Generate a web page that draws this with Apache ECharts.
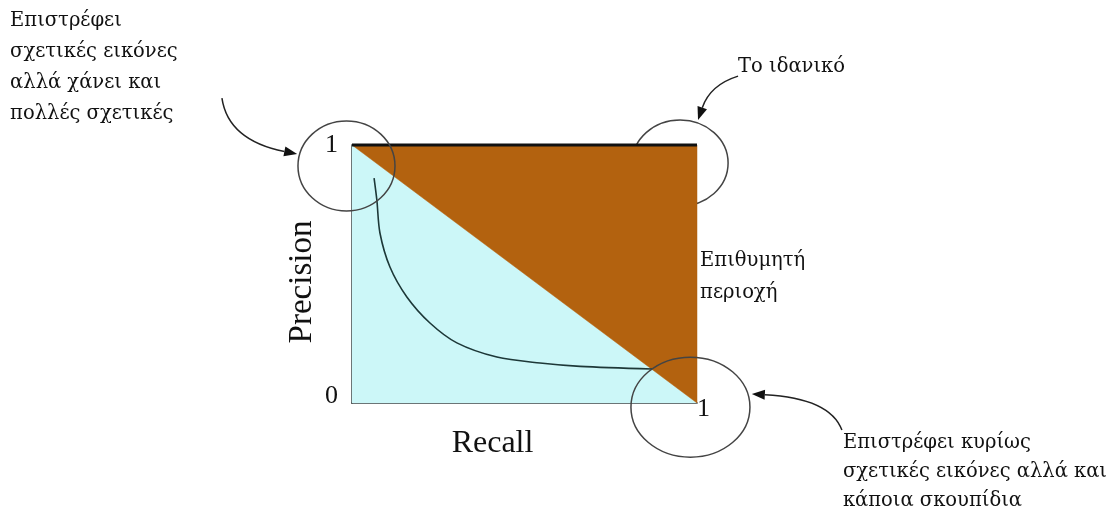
<!DOCTYPE html>
<html>
<head>
<meta charset="utf-8">
<script src="https://cdn.jsdelivr.net/npm/echarts@6/dist/echarts.min.js"></script>
<style>
  html, body { margin: 0; padding: 0; background: #fff; }
  #chart { width: 1117px; height: 514px; }
</style>
</head>
<body>
<div id="chart"></div>
<script>
// precision/recall curve
const recall =    [0.064, 0.072, 0.081, 0.110, 0.159, 0.226, 0.304, 0.420, 0.545, 0.661, 0.870];
const precision = [0.872, 0.787, 0.659, 0.527, 0.411, 0.310, 0.233, 0.178, 0.155, 0.142, 0.132];

// the two halves of the unit square
const lowerTriangle = [[0, 0], [0, 1], [1, 0]];
const upperTriangle = [[0, 1], [1, 1], [1, 0]];

// axis tick labels
const yTicks = [0, 1];
const xTicks = [1];

// notes (data coords of top-left corner of the text block)
const noteTexts = [
  'Επιστρέφει\nσχετικές εικόνες\nαλλά χάνει και\nπολλές σχετικές',
  'Το ιδανικό',
  'Επιθυμητή\nπεριοχή',
  'Επιστρέφει κυρίως\nσχετικές εικόνες αλλά και\nκάποια σκουπίδια'
];
const notePos = [[-0.991, 1.540], [1.119, 1.362], [1.009, 0.612], [1.423, -0.097]];
const noteLineHeight = [31, 31, 32, 29];

// circled corners: centres in data coords, radii in px
const circleCenters = [[-0.016, 0.919], [0.951, 0.930], [0.981, -0.016]];
const circleRadii = [[48.5, 45], [48, 43], [59.5, 50]];

// arrows: start, control, end (data coords)
const arrows = [
  [-0.377, 1.182, -0.359, 1.019, -0.159, 0.965],
  [1.119, 1.267, 1.038, 1.233, 1.003, 1.097],
  [1.420, -0.105, 1.386, 0.019, 1.159, 0.035]
];

const serif = '"Liberation Serif", "DejaVu Serif", serif';
// Liberation Serif has no Greek here, so the notes use DejaVu Serif
const greekSerif = '"DejaVu Serif", "Liberation Serif", serif';
const BROWN = '#B3620F';
const CYAN = '#CCF7F8';

function triangleSeries(points, color, z, topEdge) {
  return {
    type: 'custom',
    coordinateSystem: 'cartesian2d',
    silent: true,
    z: z,
    data: [points[0]],
    renderItem: function (params, api) {
      var children = [{
        type: 'polygon',
        shape: { points: points.map(function (p) { return api.coord(p); }) },
        style: { fill: color, stroke: color, lineWidth: 0.5 }
      }];
      if (topEdge) {
        var a = api.coord([0, 1]), b = api.coord([1, 1]);
        children.push({
          type: 'line',
          shape: { x1: a[0], y1: a[1], x2: b[0], y2: b[1] },
          style: { stroke: '#111', lineWidth: 3 }
        });
      }
      return { type: 'group', children: children };
    }
  };
}

function circleSeries(indices, z) {
  return {
    type: 'custom',
    coordinateSystem: 'cartesian2d',
    silent: true,
    clip: false,
    z: z,
    data: indices.map(function (i) { return circleCenters[i]; }),
    renderItem: function (params, api) {
      var i = indices[params.dataIndex];
      var c = api.coord(circleCenters[i]);
      return {
        type: 'ellipse',
        shape: { cx: c[0], cy: c[1], rx: circleRadii[i][0], ry: circleRadii[i][1] },
        style: { fill: 'none', stroke: '#444', lineWidth: 1.5 }
      };
    }
  };
}

var chart = echarts.init(document.getElementById('chart'), null, { renderer: 'canvas' });

chart.setOption({
  animation: false,
  backgroundColor: '#fff',
  grid: { left: 352, top: 145, width: 345, height: 258, containLabel: false },
  xAxis: {
    type: 'value', min: 0, max: 1, interval: 1,
    name: 'Recall', nameLocation: 'middle', nameGap: 9,
    nameTextStyle: { fontFamily: serif, fontSize: 32, color: '#111', lineHeight: 34, padding: [0, 64, 0, 0] },
    axisLine: { show: true, lineStyle: { color: '#111', width: 1.5 } },
    axisTick: { show: false },
    splitLine: { show: false },
    axisLabel: {
      fontFamily: serif, fontSize: 26, color: '#111', margin: 6,
      align: 'left', verticalAlign: 'middle',
      formatter: function (v) { return xTicks.indexOf(v) >= 0 ? String(v) : ''; }
    }
  },
  yAxis: {
    type: 'value', min: 0, max: 1, interval: 1,
    name: 'Precision', nameLocation: 'middle', nameGap: 33, nameRotate: 90,
    nameTextStyle: { fontFamily: serif, fontSize: 33, color: '#111', padding: [0, 16, 0, 0] },
    axisLine: { show: true, lineStyle: { color: '#111', width: 1.5 } },
    axisTick: { show: false },
    splitLine: { show: false },
    axisLabel: {
      fontFamily: serif, fontSize: 26, color: '#111', margin: 14,
      formatter: function (v) {
        if (yTicks.indexOf(v) < 0) return '';
        return v === 0 ? '{z|' + v + '}' : String(v);
      },
      rich: { z: { fontFamily: serif, fontSize: 26, color: '#111', padding: [0, 0, 13, 0] } }
    }
  },
  series: [
    circleSeries([1], 1),
    triangleSeries(lowerTriangle, CYAN, 2, false),
    triangleSeries(upperTriangle, BROWN, 2, true),
    {
      type: 'line',
      z: 4,
      data: recall.map(function (r, i) { return [r, precision[i]]; }),
      smooth: 0.3,
      showSymbol: false,
      silent: true,
      lineStyle: { color: '#1d3838', width: 1.6 }
    },
    circleSeries([0, 2], 5),
    {
      type: 'custom',
      coordinateSystem: 'cartesian2d',
      silent: true,
      clip: false,
      z: 6,
      data: arrows.map(function (a) { return [a[0], a[1]]; }),
      renderItem: function (params, api) {
        var a = arrows[params.dataIndex];
        var p0 = api.coord([a[0], a[1]]);
        var c = api.coord([a[2], a[3]]);
        var p1 = api.coord([a[4], a[5]]);
        var ang = Math.atan2(p1[1] - c[1], p1[0] - c[0]);
        var len = 13, hw = 5;
        var bx = p1[0] - len * Math.cos(ang), by = p1[1] - len * Math.sin(ang);
        var nx = -Math.sin(ang), ny = Math.cos(ang);
        return {
          type: 'group',
          children: [{
            type: 'bezierCurve',
            shape: { x1: p0[0], y1: p0[1], cpx1: c[0], cpy1: c[1], x2: bx, y2: by },
            style: { fill: 'none', stroke: '#222', lineWidth: 1.5 }
          }, {
            type: 'polygon',
            shape: { points: [p1, [bx + hw * nx, by + hw * ny], [bx - hw * nx, by - hw * ny]] },
            style: { fill: '#111' }
          }]
        };
      }
    },
    {
      type: 'custom',
      coordinateSystem: 'cartesian2d',
      silent: true,
      clip: false,
      z: 6,
      data: notePos,
      renderItem: function (params, api) {
        var i = params.dataIndex;
        var p = api.coord(notePos[i]);
        return {
          type: 'text',
          x: p[0], y: p[1],
          style: {
            text: noteTexts[i],
            fontFamily: greekSerif,
            fontSize: 19.5,
            fill: '#111',
            lineHeight: noteLineHeight[i],
            align: 'left',
            verticalAlign: 'top'
          }
        };
      }
    }
  ]
});
</script>
</body>
</html>
